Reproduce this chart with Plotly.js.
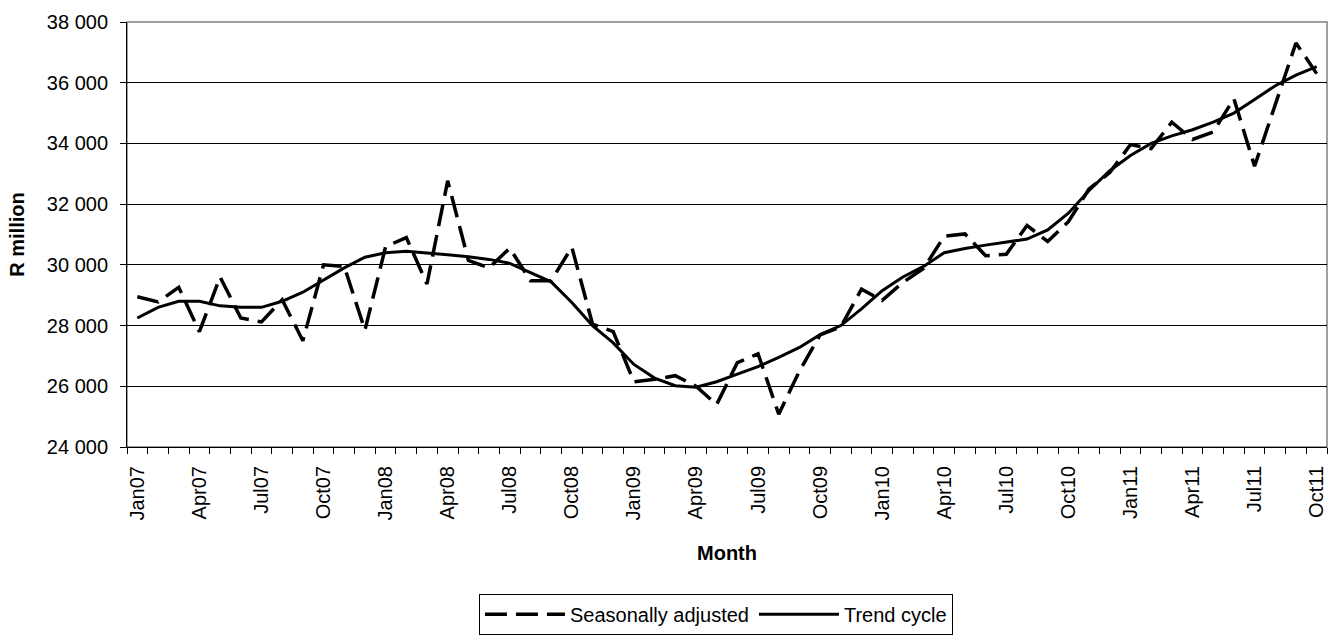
<!DOCTYPE html>
<html>
<head>
<meta charset="utf-8">
<script src="https://cdn.plot.ly/plotly-3.0.1.min.js"></script>
<style>html,body{margin:0;padding:0;background:#fff;}#chart{width:1332px;height:639px;}</style>
</head>
<body>
<div id="chart"></div>
<script>
const months = ["Jan07","Feb07","Mar07","Apr07","May07","Jun07","Jul07","Aug07","Sep07","Oct07","Nov07","Dec07",
"Jan08","Feb08","Mar08","Apr08","May08","Jun08","Jul08","Aug08","Sep08","Oct08","Nov08","Dec08",
"Jan09","Feb09","Mar09","Apr09","May09","Jun09","Jul09","Aug09","Sep09","Oct09","Nov09","Dec09",
"Jan10","Feb10","Mar10","Apr10","May10","Jun10","Jul10","Aug10","Sep10","Oct10","Nov10","Dec10",
"Jan11","Feb11","Mar11","Apr11","May11","Jun11","Jul11","Aug11","Sep11","Oct11"];

const seasonallyAdjusted = [28950,28780,29260,27800,29600,28250,28120,28850,27500,30000,29950,27850,
30600,30900,29370,32770,30150,29900,30550,29480,29480,30580,28050,27800,
26150,26230,26350,26000,25400,26780,27070,25080,26500,27690,27960,29200,
28830,29420,29880,30940,31020,30300,30350,31300,30770,31420,32500,33040,
33960,33830,34700,34130,34380,35470,33250,35300,37310,36300];

const trendCycle = [28250,28600,28800,28800,28650,28600,28600,28800,29100,29500,29900,30250,
30400,30450,30400,30330,30270,30180,30050,29750,29440,28760,28000,27430,
26720,26270,26020,25970,26150,26400,26650,26950,27280,27700,28000,28550,
29150,29600,29950,30400,30540,30650,30740,30850,31150,31700,32450,33100,
33600,34000,34250,34450,34700,35000,35450,35900,36250,36530];

const tickLabels = months.filter((m, i) => i % 3 === 0);
const idx = months.map((m, i) => i);
const tickIdx = idx.filter(i => i % 3 === 0);

const FONT = "'Liberation Sans', Arial, sans-serif";

const traces = [
  {x: idx, y: seasonallyAdjusted, name: "Seasonally adjusted", type: "scatter", mode: "lines",
   line: {color: "#000", width: 3.5, dash: "22px,9px"}},
  {x: idx, y: trendCycle, name: "Trend cycle", type: "scatter", mode: "lines",
   line: {color: "#000", width: 3}}
];

const layout = {
  width: 1332, height: 639,
  margin: {l: 127, r: 5, t: 22, b: 185},
  paper_bgcolor: "#fff", plot_bgcolor: "#fff",
  font: {family: FONT, size: 20, color: "#000"},
  separators: ". ",
  showlegend: true,
  xaxis: {
    range: [-0.5, months.length - 0.5],
    tickmode: "array", tickvals: tickIdx, ticktext: tickLabels,
    tickangle: -90, ticks: "", showgrid: false, zeroline: false,
    showline: true, linecolor: "#000", linewidth: 1,
    ticklabelstandoff: 10,
    tickfont: {family: FONT, size: 20, color: "#000"},
    minor: {tickmode: "linear", tick0: -0.5, dtick: 1, ticks: "outside", ticklen: 6, tickcolor: "#000", showgrid: false},
    title: {text: "<b>Month</b>", font: {family: FONT, size: 20, color: "#000"}, standoff: 26},
    automargin: false
  },
  yaxis: {
    range: [24000, 38000], dtick: 2000, tick0: 24000,
    tickformat: ",d",
    ticks: "outside", ticklen: 6, tickcolor: "#000",
    showgrid: true, gridcolor: "#000", gridwidth: 1, zeroline: false,
    showline: true, linecolor: "#000", linewidth: 1,
    ticklabelstandoff: 8,
    tickfont: {family: FONT, size: 20, color: "#000"},
    title: {text: "<b>R million</b>", font: {family: FONT, size: 20, color: "#000"}, standoff: 16},
    automargin: false
  },
  legend: {
    orientation: "h", x: 0.2933, xanchor: "left", y: -0.345, yanchor: "top",
    bordercolor: "#000", borderwidth: 1, bgcolor: "#fff",
    font: {family: FONT, size: 20, color: "#000"},
    itemwidth: 80, traceorder: "normal"
  },
  shapes: [
    {type: "rect", xref: "paper", yref: "paper", x0: 0, x1: 1, y0: 0, y1: 1,
     line: {color: "#808080", width: 1.5}, layer: "below"}
  ]
};

Plotly.newPlot("chart", traces, layout, {displayModeBar: false, staticPlot: true});
</script>
</body>
</html>
